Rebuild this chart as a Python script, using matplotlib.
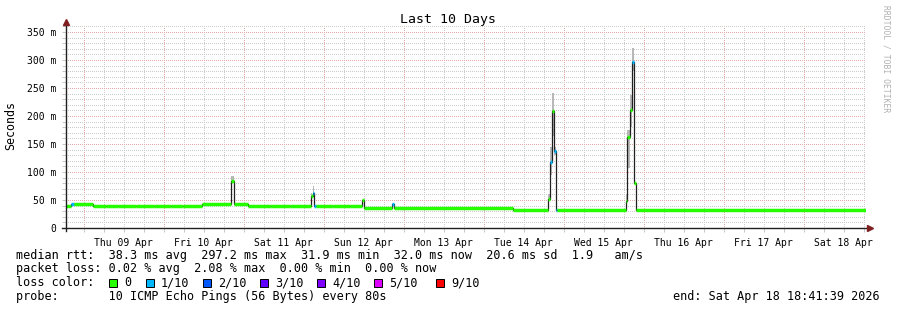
# smokeping 10天延迟图 (rrdtool 风格)
import datetime as dt
import numpy as np
import matplotlib
matplotlib.use('Agg')
import matplotlib.pyplot as plt
import matplotlib.dates as mdates
from matplotlib.lines import Line2D
from matplotlib.patches import Rectangle
from matplotlib.ticker import FuncFormatter, MultipleLocator

# ---------------- 数据 ----------------
start_time = dt.datetime(2026, 4, 8, 18, 41, 39)   # 图的起点
days_shown = 10
title = 'Last 10 Days'
end_text = 'end: Sat Apr 18 18:41:39 2026'

# 中位数 rtt 阶梯: 起点(小时), 值(ms), 丢包数
step_hours = [0, 1.5, 2.4, 8.1, 12.0, 15.6, 21.0, 26.4, 31.5, 35.1, 40.8, 49.5, 50.4,
              54.6, 61.5, 67.2, 73.5, 73.95, 74.4, 74.85, 80.1, 85.2,
              88.8, 89.4, 97.8, 98.4, 134.1, 144.45, 145.2, 145.9, 146.4, 146.9,
              147.3, 167.85, 168.4, 169.2, 169.9, 170.5, 170.85]
step_ms = [40, 43, 43, 40, 39, 40, 39, 40, 39, 40, 42, 84, 42,
           40, 39, 40, 58, 63, 40, 40, 39, 40,
           50, 35, 42, 35, 32, 52, 118, 209, 137, 32,
           32, 49, 163, 211, 296, 80, 32]
step_loss = [0, 1, 0, 0, 0, 0, 0, 0, 0, 0, 0, 0, 0,
             0, 0, 0, 0, 1, 1, 0, 0, 0,
             0, 0, 1, 0, 0, 0, 1, 0, 1, 1,
             0, 0, 0, 0, 1, 0, 0]

# 烟雾 (ping 分布范围)
smoke_start = [49.5, 73.5, 73.95, 144.45, 145.2, 145.9, 146.4, 146.9, 167.85, 168.4, 169.2, 169.9]
smoke_end = [50.4, 73.95, 74.4, 145.2, 145.9, 146.4, 146.9, 147.3, 168.4, 169.2, 169.9, 170.5]
smoke_lo = [80, 55, 60, 48, 95, 165, 130, 32, 45, 107, 181, 280]
smoke_hi = [93, 62, 75, 60, 145, 241, 145, 40, 60, 175, 237, 321]

# 丢包颜色图例
loss_labels = ['0', '1/10', '2/10', '3/10', '4/10', '5/10', '9/10']
loss_colors = ['#26ff00', '#00b8ff', '#0059ff', '#5e00ff', '#7e00ff', '#dd00ff', '#ff0000']

y_ticks = [0, 50, 100, 150, 200, 250, 300, 350]

rtt_line = 'median rtt:  38.3 ms avg  297.2 ms max  31.9 ms min  32.0 ms now  20.6 ms sd  1.9   am/s'
loss_line = 'packet loss: 0.02 % avg  2.08 % max  0.00 % min  0.00 % now'
probe_line = 'probe:       10 ICMP Echo Pings (56 Bytes) every 80s'

if __name__ == '__main__':
    W, H = 897, 310
    mono = 'DejaVu Sans Mono'
    fig = plt.figure(figsize=(W / 100, H / 100), dpi=100)
    fig.patch.set_facecolor('white')

    # 绘图区 (像素换算)
    x0, x1, y_bot, y_top = 66, 866, 228, 26.4
    ax = fig.add_axes([x0 / W, 1 - y_bot / H, (x1 - x0) / W, (y_bot - y_top) / H])
    ax.set_facecolor('white')

    t0 = mdates.date2num(start_time)
    t_end = t0 + days_shown
    t = t0 + np.array(step_hours) / 24.0
    t_next = np.append(t[1:], t_end)
    ms = np.array(step_ms, dtype=float)

    # 烟雾
    s0 = t0 + np.array(smoke_start) / 24.0
    s1 = t0 + np.array(smoke_end) / 24.0
    ax.bar(s0, np.array(smoke_hi) - np.array(smoke_lo), bottom=smoke_lo, width=s1 - s0,
           align='edge', color='#b8b8b8', linewidth=0, zorder=2)

    # 中位数: 黑色细阶梯 + 彩色粗横线
    ax.step(np.append(t, t_end), np.append(ms, ms[-1]), where='post',
            color='#202020', lw=0.9, zorder=3)
    ax.hlines(ms, t, t_next, colors=[loss_colors[l] for l in step_loss], lw=2.5, zorder=4)

    ax.set_xlim(t0, t_end)
    ax.set_ylim(0, 360)

    # 网格
    ax.xaxis.set_major_locator(mdates.DayLocator())
    ax.xaxis.set_minor_locator(mdates.HourLocator(byhour=[0, 6, 12, 18]))
    ax.xaxis.set_major_formatter(FuncFormatter(lambda v, p: ''))
    ax.xaxis.set_minor_formatter(FuncFormatter(
        lambda v, p: mdates.num2date(v).strftime('%a %d %b') if mdates.num2date(v).hour == 12 else ''))
    ax.set_yticks(y_ticks)
    ax.set_yticklabels(['0' if v == 0 else '%d m' % v for v in y_ticks])
    ax.yaxis.set_minor_locator(MultipleLocator(10))

    ax.grid(which='major', color='#e6a8a8', linestyle=(0, (1, 2)), lw=0.72,
            antialiased=False, zorder=1)
    ax.grid(which='minor', color='#cccccc', linestyle=(0, (1, 2)), lw=0.72,
            antialiased=False, zorder=1)
    ax.tick_params(which='both', direction='out', length=3, width=0.72, color='#c8c8c8')
    ax.tick_params(axis='x', which='minor', pad=4, labelsize=7)
    ax.tick_params(axis='y', which='major', pad=4, labelsize=7)
    for lab in ax.get_xticklabels(minor=True) + ax.get_yticklabels():
        lab.set_family(mono)
    for s in ax.spines.values():
        s.set_visible(False)

    # 坐标轴线和箭头
    yb = 1 - y_bot / H
    fig.add_artist(Line2D([62 / W, 868 / W], [yb, yb], color='#202020', lw=1))
    fig.add_artist(Line2D([x0 / W, x0 / W], [1 - 231 / H, 1 - 24 / H], color='#202020', lw=1))
    fig.add_artist(Line2D([870 / W], [yb], marker='>', color='#7f1f1f', markersize=4, lw=0))
    fig.add_artist(Line2D([x0 / W], [1 - 22 / H], marker='^', color='#7f1f1f', markersize=4, lw=0))

    # 文字
    fig.text(448 / W, 1 - 20 / H, title, ha='center', va='center', family=mono, fontsize=9.5)
    fig.text(11 / W, 1 - 125 / H, 'Seconds', rotation=90, ha='center', va='center',
             family=mono, fontsize=8.4)
    fig.text(886 / W, 1 - 59 / H, 'RRDTOOL / TOBI OETIKER', rotation=270, ha='center',
             va='center', family=mono, fontsize=5.8, color='#b0b0b0')

    fs = 8.45
    fig.text(16 / W, 1 - 255 / H, rtt_line, va='center', family=mono, fontsize=fs)
    fig.text(16 / W, 1 - 268.5 / H, loss_line, va='center', family=mono, fontsize=fs)
    fig.text(16 / W, 1 - 282.5 / H, 'loss color:', va='center', family=mono, fontsize=fs)
    fig.text(16 / W, 1 - 296.5 / H, probe_line, va='center', family=mono, fontsize=fs)
    fig.text(880 / W, 1 - 296.5 / H, end_text, ha='right', va='center', family=mono, fontsize=fs)

    box_x = [109, 146, 203, 260, 317, 374, 436]
    for bx, lab, col in zip(box_x, loss_labels, loss_colors):
        fig.add_artist(Rectangle((bx / W, 1 - 286.5 / H), 8 / W, 8 / H, facecolor=col,
                                 edgecolor='black', lw=0.7, transform=fig.transFigure))
        fig.text((bx + 15) / W, 1 - 282.5 / H, lab, va='center', family=mono, fontsize=fs)

    fig.savefig('out.png', dpi=100, facecolor='white')
